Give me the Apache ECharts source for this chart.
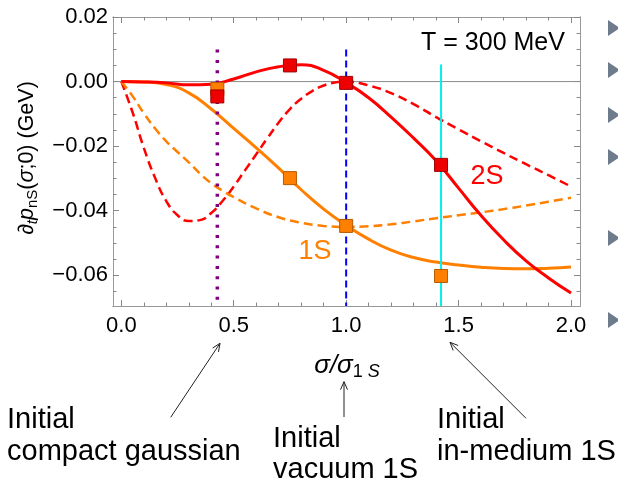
<!DOCTYPE html>
<html>
<head>
<meta charset="utf-8">
<script src="https://cdn.jsdelivr.net/npm/echarts@6/dist/echarts.min.js"></script>
<style>html,body{margin:0;padding:0;background:#fff}#c{width:618px;height:485px}</style>
</head>
<body>
<div id="c"></div>
<script>
// ---- data ----
const solidX = [0,0.1,0.2,0.3,0.4,0.5,0.6,0.7,0.8,0.9,1.0,1.1,1.2,1.3,1.4,1.5,1.6,1.7,1.8,1.9,2.0];
const red2S = [0,-0.0001,-0.0004,-0.0010,-0.0008,0.0008,0.0030,0.0046,0.0052,0.0035,-0.0003,-0.0050,-0.0110,-0.0175,-0.0245,-0.0330,-0.0415,-0.0490,-0.0555,-0.0608,-0.0655];
const orange1S = [0,-0.0001,-0.0009,-0.0035,-0.0085,-0.0145,-0.0205,-0.0268,-0.0335,-0.0395,-0.0445,-0.0488,-0.0522,-0.0545,-0.0559,-0.0568,-0.0575,-0.0579,-0.0580,-0.0578,-0.0574];
const redDashX = [0,0.05,0.1,0.15,0.2,0.25,0.3,0.35,0.4,0.45,0.5,0.55,0.6,0.65,0.7,0.75,0.8,0.85,0.9,0.95,1.0,1.1,1.2,1.3,1.4,1.5,1.6,1.7,1.8,1.9,2.0];
const redDashY = [0,-0.0095,-0.0205,-0.0298,-0.0370,-0.0414,-0.0432,-0.0429,-0.0407,-0.0370,-0.0325,-0.0275,-0.0225,-0.0175,-0.0127,-0.0085,-0.0053,-0.0029,-0.0012,-0.0003,0,-0.0012,-0.0036,-0.0070,-0.0110,-0.0148,-0.0185,-0.0221,-0.0256,-0.0290,-0.0325];
const orangeDashX = [0,0.05,0.1,0.15,0.2,0.25,0.3,0.35,0.4,0.45,0.5,0.6,0.7,0.8,0.9,1.0,1.1,1.2,1.3,1.4,1.5,1.6,1.7,1.8,1.9,2.0];
const orangeDashY = [0,-0.0045,-0.0098,-0.0145,-0.0185,-0.0218,-0.0250,-0.0285,-0.0315,-0.0338,-0.0358,-0.0393,-0.0420,-0.0437,-0.0447,-0.0450,-0.0448,-0.0442,-0.0433,-0.0423,-0.0414,-0.0405,-0.0395,-0.0384,-0.0372,-0.0360];
const squareX = [0.427,0.75,1.0,1.422];
const square1S = [-0.0023,-0.0299,-0.0447,-0.0602];
const square2S = [-0.0046,0.0050,-0.0004,-0.0258];
const refX = [0.427,1.0,1.422];
const refTop = [0.0099,0.0099,0.0053];
const refBottom = [-0.0680,-0.0695,-0.0695];
const xTicks = [0,0.5,1.0,1.5,2.0];
const xMinorTicks = [0.1,0.2,0.3,0.4,0.6,0.7,0.8,0.9,1.1,1.2,1.3,1.4,1.6,1.7,1.8,1.9];
const yTicks = [-0.06,-0.04,-0.02,0,0.02];
const yMinorTicks = [-0.065,-0.055,-0.05,-0.045,-0.035,-0.03,-0.025,-0.015,-0.01,-0.005,0.005,0.01,0.015];
const xMin = -0.037, xMax = 2.04, yMin = -0.0695, yMax = 0.02;

const FONT = '"Liberation Sans", Arial, Helvetica, sans-serif';
const pair = (xs, ys) => xs.map((x, i) => [x, ys[i]]);
const frame = '#999999';

function xAx(pos, vals, len, labels) {
  return {
    type: 'value', min: xMin, max: xMax, position: pos,
    axisLine: { show: true, onZero: false, lineStyle: { color: frame, width: 1 } },
    axisTick: { show: true, inside: true, length: len, customValues: vals, lineStyle: { color: '#888', width: 1 } },
    axisLabel: labels ? { show: true, customValues: vals, margin: 9, color: '#000', fontSize: 22, fontFamily: FONT,
      formatter: v => v.toFixed(1) } : { show: false },
    splitLine: { show: false }
  };
}
function yAx(pos, vals, len, labels) {
  return {
    type: 'value', min: yMin, max: yMax, position: pos,
    axisLine: { show: true, onZero: false, lineStyle: { color: frame, width: 1 } },
    axisTick: { show: true, inside: true, length: len, customValues: vals, lineStyle: { color: '#888', width: 1 } },
    axisLabel: labels ? { show: true, customValues: vals, margin: 5, color: '#000', fontSize: 22, fontFamily: FONT,
      formatter: v => (v < -1e-9 ? '\u2212' : '') + Math.abs(v).toFixed(2) } : { show: false },
    splitLine: { show: false }
  };
}

function arrow(sx, sy, tx, ty) {
  const dx = tx - sx, dy = ty - sy, L = Math.hypot(dx, dy), ux = dx / L, uy = dy / L, nx = -uy, ny = ux;
  const h = 8, w = 3.5;
  return [
    { type: 'line', shape: { x1: sx, y1: sy, x2: tx, y2: ty }, style: { stroke: '#222', lineWidth: 1 } },
    { type: 'polyline', shape: { points: [[tx - h * ux + w * nx, ty - h * uy + w * ny], [tx, ty], [tx - h * ux - w * nx, ty - h * uy - w * ny]] },
      style: { stroke: '#222', fill: null, lineWidth: 1 } }
  ];
}
function txt(text, x, y, size, color, align) {
  return { type: 'text', x: x, y: y, style: { text: text, x: 0, y: 0, fill: color || '#000', font: size + 'px ' + FONT,
    textAlign: align || 'left', align: align || 'left', textVerticalAlign: 'middle', verticalAlign: 'middle' } };
}
function tri(y) {
  return { type: 'polygon', shape: { points: [[608, y - 8], [608, y + 8], [620, y]] }, style: { fill: '#6d7b8d' } };
}

const lineSeries = (data, color, width, type, z) => ({
  type: 'line', data: data, showSymbol: false, smooth: 0.5, z: z, silent: true,
  lineStyle: { color: color, width: width, type: type, cap: 'butt' }
});

const series = [
  { type: 'line', data: [[xMin, 0], [xMax, 0]], showSymbol: false, z: 1, silent: true, lineStyle: { color: '#8a8a8a', width: 1 } },
  lineSeries(pair(redDashX, redDashY), '#ff0000', 2.5, [9, 5], 2),
  lineSeries(pair(orangeDashX, orangeDashY), '#ff8000', 2.5, [9, 5], 2),
  lineSeries(pair(solidX, orange1S), '#ff8000', 3, 'solid', 3),
  lineSeries(pair(solidX, red2S), '#ff0000', 3, 'solid', 3),
  { type: 'line', data: [[refX[0], refTop[0]], [refX[0], refBottom[0]]], showSymbol: false, z: 4, silent: true,
    lineStyle: { color: '#800080', width: 3.5, type: [3, 7.3], cap: 'butt' } },
  { type: 'line', data: [[refX[1], refTop[1]], [refX[1], refBottom[1]]], showSymbol: false, z: 4, silent: true,
    lineStyle: { color: '#0000ff', width: 2, type: [7, 4], cap: 'butt' } },
  { type: 'line', data: [[refX[2], refTop[2]], [refX[2], refBottom[2]]], showSymbol: false, z: 4, silent: true,
    lineStyle: { color: '#00f0f0', width: 2, type: 'solid' } },
  { type: 'scatter', data: pair(squareX, square1S), symbol: 'rect', symbolSize: 13, z: 5, silent: true,
    itemStyle: { color: '#ff8000', borderColor: '#b55a00', borderWidth: 1, opacity: 1 } },
  { type: 'scatter', data: pair(squareX, square2S), symbol: 'rect', symbolSize: 13, z: 6, silent: true,
    itemStyle: { color: '#ee0000', borderColor: '#a00000', borderWidth: 1, opacity: 1 } }
];
series.forEach(s => { s.xAxisIndex = 0; s.yAxisIndex = 0; });

const yTitle = {
  type: 'text', x: 27, y: 158, rotation: Math.PI / 2,
  style: {
    text: '{m|\u2202}{si|t}{mi|p}{s|nS}{m|(}{mi|\u03c3}{m|;0) (GeV)}', x: 0, y: 0,
    textAlign: 'center', align: 'center', textVerticalAlign: 'middle', verticalAlign: 'middle',
    rich: {
      m: { fontSize: 21.5, fontFamily: FONT, lineHeight: 26, fill: '#000', color: '#000' },
      mi: { fontSize: 21.5, fontFamily: FONT, fontStyle: 'italic', lineHeight: 26, fill: '#000', color: '#000' },
      si: { fontSize: 15, fontFamily: FONT, fontStyle: 'italic', lineHeight: 15, verticalAlign: 'bottom', fill: '#000', color: '#000' },
      s: { fontSize: 15, fontFamily: FONT, lineHeight: 15, verticalAlign: 'bottom', fill: '#000', color: '#000' }
    }
  }
};
const xTitle = {
  type: 'text', x: 347, y: 366,
  style: {
    text: '{mi|\u03c3/\u03c3}{s|1}{si| S}', x: 0, y: 0,
    textAlign: 'center', align: 'center', textVerticalAlign: 'middle', verticalAlign: 'middle',
    rich: {
      mi: { fontSize: 26, fontFamily: FONT, fontStyle: 'italic', lineHeight: 30, fill: '#000', color: '#000' },
      s: { fontSize: 18, fontFamily: FONT, lineHeight: 18, verticalAlign: 'bottom', fill: '#000', color: '#000' },
      si: { fontSize: 18, fontFamily: FONT, fontStyle: 'italic', lineHeight: 18, verticalAlign: 'bottom', fill: '#000', color: '#000' }
    }
  }
};

const graphics = [
  yTitle, xTitle,
  txt('T = 300 MeV', 493, 43, 25, '#000', 'center'),
  txt('2S', 487, 177, 27, '#ff0000', 'center'),
  txt('1S', 315, 252, 27, '#ff8000', 'center'),
  txt('Initial', 7, 419.5, 29),
  txt('compact gaussian', 7, 451.5, 29),
  txt('Initial', 273, 438.5, 29),
  txt('vacuum 1S', 273, 469.5, 29),
  txt('Initial', 437, 419.5, 29),
  txt('in-medium 1S', 437, 451.5, 29),
  ...arrow(170.7, 417.3, 220, 343.3),
  ...arrow(344, 417, 344, 381.7),
  ...arrow(526, 418.3, 450, 342.3),
  tri(28), tri(70), tri(115), tri(157), tri(238), tri(320)
];

const chart = echarts.init(document.getElementById('c'), null, { renderer: 'canvas' });
chart.setOption({
  animation: false,
  backgroundColor: '#ffffff',
  grid: { left: 113, top: 17, width: 467, height: 289, containLabel: false, outerBoundsMode: 'none' },
  xAxis: [xAx('bottom', xTicks, 6, true), xAx('bottom', xMinorTicks, 3.5, false), xAx('top', xTicks, 6, false), xAx('top', xMinorTicks, 3.5, false)],
  yAxis: [yAx('left', yTicks, 6, true), yAx('left', yMinorTicks, 3.5, false), yAx('right', yTicks, 6, false), yAx('right', yMinorTicks, 3.5, false)],
  series: series,
  graphic: { elements: graphics }
});
</script>
</body>
</html>
